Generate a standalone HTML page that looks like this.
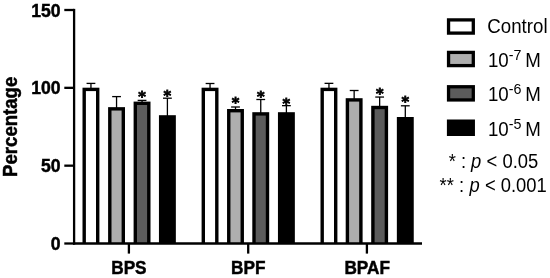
<!DOCTYPE html><html><head><meta charset="utf-8"><title>chart</title>
<style>html,body{margin:0;padding:0;background:#fff;}body{width:550px;height:278px;overflow:hidden;}svg{display:block;}text{font-family:"Liberation Sans", sans-serif;fill:#000;}text.b{stroke:#000;stroke-width:0.45px;}text.st{font-family:"DejaVu Sans","Liberation Sans",sans-serif;stroke:#000;stroke-width:0.8px;}</style>
</head><body>
<svg width="550" height="278" viewBox="0 0 550 278">
<rect x="0" y="0" width="550" height="278" fill="#fff"/>
<line x1="90.95" y1="83.40" x2="90.95" y2="88.70" stroke="#000" stroke-width="1.3"/>
<line x1="86.55" y1="83.40" x2="95.35" y2="83.40" stroke="#000" stroke-width="1.3"/>
<rect x="82.50" y="87.70" width="16.90" height="155.60" fill="#000"/>
<rect x="85.90" y="91.10" width="10.10" height="152.20" fill="#ffffff"/>
<line x1="116.55" y1="96.60" x2="116.55" y2="108.15" stroke="#000" stroke-width="1.3"/>
<line x1="112.15" y1="96.60" x2="120.95" y2="96.60" stroke="#000" stroke-width="1.3"/>
<rect x="108.10" y="107.15" width="16.90" height="136.15" fill="#000"/>
<rect x="111.50" y="110.55" width="10.10" height="132.75" fill="#aeaeae"/>
<line x1="142.05" y1="100.40" x2="142.05" y2="102.60" stroke="#000" stroke-width="1.3"/>
<line x1="137.65" y1="100.40" x2="146.45" y2="100.40" stroke="#000" stroke-width="1.3"/>
<rect x="133.60" y="101.60" width="16.90" height="141.70" fill="#000"/>
<rect x="137.00" y="105.00" width="10.10" height="138.30" fill="#5c5c5c"/>
<text x="141.95" y="101.23" font-size="14.5" font-weight="bold" text-anchor="middle" class="st">*</text>
<line x1="167.40" y1="98.20" x2="167.40" y2="116.20" stroke="#000" stroke-width="1.3"/>
<line x1="163.00" y1="98.20" x2="171.80" y2="98.20" stroke="#000" stroke-width="1.3"/>
<rect x="158.95" y="115.20" width="16.90" height="128.10" fill="#000"/>
<text x="167.40" y="99.53" font-size="14.5" font-weight="bold" text-anchor="middle" class="st">*</text>
<line x1="210.05" y1="83.50" x2="210.05" y2="88.70" stroke="#000" stroke-width="1.3"/>
<line x1="205.65" y1="83.50" x2="214.45" y2="83.50" stroke="#000" stroke-width="1.3"/>
<rect x="201.60" y="87.70" width="16.90" height="155.60" fill="#000"/>
<rect x="205.00" y="91.10" width="10.10" height="152.20" fill="#ffffff"/>
<line x1="235.50" y1="107.00" x2="235.50" y2="110.00" stroke="#000" stroke-width="1.3"/>
<line x1="231.10" y1="107.00" x2="239.90" y2="107.00" stroke="#000" stroke-width="1.3"/>
<rect x="227.05" y="109.00" width="16.90" height="134.30" fill="#000"/>
<rect x="230.45" y="112.40" width="10.10" height="130.90" fill="#aeaeae"/>
<text x="235.50" y="107.03" font-size="14.5" font-weight="bold" text-anchor="middle" class="st">*</text>
<line x1="260.75" y1="99.50" x2="260.75" y2="113.20" stroke="#000" stroke-width="1.3"/>
<line x1="256.35" y1="99.50" x2="265.15" y2="99.50" stroke="#000" stroke-width="1.3"/>
<rect x="252.30" y="112.20" width="16.90" height="131.10" fill="#000"/>
<rect x="255.70" y="115.60" width="10.10" height="127.70" fill="#5c5c5c"/>
<text x="260.70" y="100.98" font-size="14.5" font-weight="bold" text-anchor="middle" class="st">*</text>
<line x1="286.40" y1="105.65" x2="286.40" y2="113.20" stroke="#000" stroke-width="1.3"/>
<line x1="282.00" y1="105.65" x2="290.80" y2="105.65" stroke="#000" stroke-width="1.3"/>
<rect x="277.95" y="112.20" width="16.90" height="131.10" fill="#000"/>
<text x="286.40" y="107.88" font-size="14.5" font-weight="bold" text-anchor="middle" class="st">*</text>
<line x1="328.95" y1="83.35" x2="328.95" y2="88.70" stroke="#000" stroke-width="1.3"/>
<line x1="324.55" y1="83.35" x2="333.35" y2="83.35" stroke="#000" stroke-width="1.3"/>
<rect x="320.50" y="87.70" width="16.90" height="155.60" fill="#000"/>
<rect x="323.90" y="91.10" width="10.10" height="152.20" fill="#ffffff"/>
<line x1="354.15" y1="90.50" x2="354.15" y2="99.20" stroke="#000" stroke-width="1.3"/>
<line x1="349.75" y1="90.50" x2="358.55" y2="90.50" stroke="#000" stroke-width="1.3"/>
<rect x="345.70" y="98.20" width="16.90" height="145.10" fill="#000"/>
<rect x="349.10" y="101.60" width="10.10" height="141.70" fill="#aeaeae"/>
<line x1="379.65" y1="97.05" x2="379.65" y2="106.80" stroke="#000" stroke-width="1.3"/>
<line x1="375.25" y1="97.05" x2="384.05" y2="97.05" stroke="#000" stroke-width="1.3"/>
<rect x="371.20" y="105.80" width="16.90" height="137.50" fill="#000"/>
<rect x="374.60" y="109.20" width="10.10" height="134.10" fill="#5c5c5c"/>
<text x="379.70" y="97.93" font-size="14.5" font-weight="bold" text-anchor="middle" class="st">*</text>
<line x1="405.30" y1="105.80" x2="405.30" y2="118.00" stroke="#000" stroke-width="1.3"/>
<line x1="400.90" y1="105.80" x2="409.70" y2="105.80" stroke="#000" stroke-width="1.3"/>
<rect x="396.85" y="117.00" width="16.90" height="126.30" fill="#000"/>
<text x="405.30" y="105.93" font-size="14.5" font-weight="bold" text-anchor="middle" class="st">*</text>
<line x1="74.1" y1="8.85" x2="74.1" y2="244.65" stroke="#000" stroke-width="2.3"/>
<line x1="72.95" y1="243.5" x2="422" y2="243.5" stroke="#000" stroke-width="2.3"/>
<line x1="64.3" y1="243.50" x2="74.1" y2="243.50" stroke="#000" stroke-width="2.3"/>
<text transform="translate(0,250.10) scale(1,1.04)" x="60.6" y="0" font-size="17.6" font-weight="bold" class="b" text-anchor="end">0</text>
<line x1="64.3" y1="165.67" x2="74.1" y2="165.67" stroke="#000" stroke-width="2.3"/>
<text transform="translate(0,172.27) scale(1,1.04)" x="60.6" y="0" font-size="17.6" font-weight="bold" class="b" text-anchor="end">50</text>
<line x1="64.3" y1="87.83" x2="74.1" y2="87.83" stroke="#000" stroke-width="2.3"/>
<text transform="translate(0,94.43) scale(1,1.04)" x="60.6" y="0" font-size="17.6" font-weight="bold" class="b" text-anchor="end">100</text>
<line x1="64.3" y1="10.00" x2="74.1" y2="10.00" stroke="#000" stroke-width="2.3"/>
<text transform="translate(0,16.60) scale(1,1.04)" x="60.6" y="0" font-size="17.6" font-weight="bold" class="b" text-anchor="end">150</text>
<line x1="128.90" y1="243" x2="128.90" y2="253.6" stroke="#000" stroke-width="2.3"/>
<text transform="translate(0,273.5) scale(1,1.04)" x="128.90" y="0" font-size="17.2" font-weight="bold" class="b" text-anchor="middle">BPS</text>
<line x1="248.20" y1="243" x2="248.20" y2="253.6" stroke="#000" stroke-width="2.3"/>
<text transform="translate(0,273.5) scale(1,1.04)" x="248.20" y="0" font-size="17.2" font-weight="bold" class="b" text-anchor="middle">BPF</text>
<line x1="366.90" y1="243" x2="366.90" y2="253.6" stroke="#000" stroke-width="2.3"/>
<text transform="translate(0,273.5) scale(1,1.04)" x="367.20" y="0" font-size="17.2" font-weight="bold" class="b" text-anchor="middle">BPAF</text>
<text transform="translate(17.4,126.8) rotate(-90) scale(1,1.04)" font-size="18.6" font-weight="bold" class="b" text-anchor="middle">Percentage</text>
<rect x="448.55" y="19.90" width="24.75" height="13.2" fill="#ffffff" stroke="#000" stroke-width="3.3"/>
<text transform="translate(0,32.70) scale(1,1.07)" x="487.3" y="0" font-size="18.7">Control</text>
<rect x="448.55" y="52.40" width="24.75" height="13.2" fill="#aeaeae" stroke="#000" stroke-width="3.3"/>
<text transform="translate(0,67.00) scale(1,1.07)" x="487.9" y="0" font-size="18.7">10<tspan dy="-6.45" font-size="14.3">-7 </tspan><tspan dy="6.45" x="525.3">M</tspan></text>
<rect x="448.55" y="86.75" width="24.75" height="13.2" fill="#5c5c5c" stroke="#000" stroke-width="3.3"/>
<text transform="translate(0,101.30) scale(1,1.07)" x="487.9" y="0" font-size="18.7">10<tspan dy="-6.45" font-size="14.3">-6 </tspan><tspan dy="6.45" x="525.3">M</tspan></text>
<rect x="448.55" y="121.15" width="24.75" height="13.2" fill="#000000" stroke="#000" stroke-width="3.3"/>
<text transform="translate(0,135.80) scale(1,1.07)" x="487.9" y="0" font-size="18.7">10<tspan dy="-6.45" font-size="14.3">-5 </tspan><tspan dy="6.45" x="525.3">M</tspan></text>
<text transform="translate(0,168.40) scale(1,1.07)" y="0" font-size="18.4"><tspan x="448.70">* </tspan><tspan x="461.00">: </tspan><tspan x="471.00" font-style="italic">p </tspan><tspan x="486.50">&lt; </tspan><tspan x="502.50">0.05 </tspan></text>
<text transform="translate(0,191.90) scale(1,1.07)" y="0" font-size="18.4"><tspan x="439.60">** </tspan><tspan x="459.00">: </tspan><tspan x="469.60" font-style="italic">p </tspan><tspan x="485.10">&lt; </tspan><tspan x="500.70">0.001 </tspan></text>
</svg></body></html>
